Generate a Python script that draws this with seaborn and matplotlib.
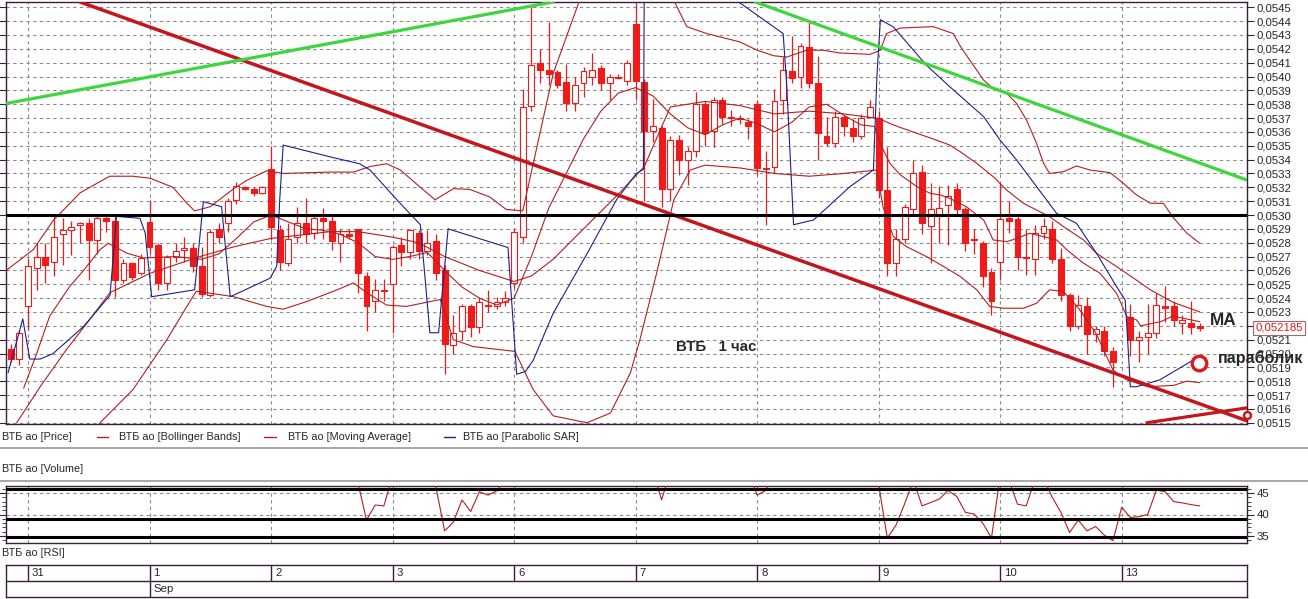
import numpy as np
import pandas as pd
import matplotlib
matplotlib.use("Agg")
import matplotlib.pyplot as plt
import matplotlib.transforms as mtransforms
from matplotlib.lines import Line2D
import seaborn as sns

# hourly bars, VTB ao, 28 Aug .. 13 Sep (bar 128 has no data)
opens = [0.05203, 0.05196, 0.05234, 0.05262, 0.05270, 0.05266, 0.05286, 0.05289, 0.05293, 0.05294,
         0.05282, 0.05298, 0.05296, 0.05253, 0.05265, 0.05258, 0.05295, 0.05278, 0.05251, 0.05270,
         0.05275, 0.05276, 0.05263, 0.05242, 0.05290, 0.05294, 0.05311, 0.05320, 0.05319, 0.05316,
         0.05333, 0.05289, 0.05265, 0.05284, 0.05294, 0.05287, 0.05298, 0.05296, 0.05280, 0.05286,
         0.05290, 0.05256, 0.05238, 0.05246, 0.05250, 0.05278, 0.05273, 0.05287, 0.05274, 0.05281,
         0.05260, 0.05206, 0.05216, 0.05234, 0.05219, 0.05235, 0.05234, 0.05237, 0.05251, 0.05284,
         0.05379, 0.05410, 0.05405, 0.05403, 0.05396, 0.05381, 0.05395, 0.05400, 0.05406, 0.05395,
         0.05400, 0.05397, 0.05438, 0.05396, 0.05361, 0.05363, 0.05319, 0.05354, 0.05340, 0.05346,
         0.05380, 0.05361, 0.05383, 0.05371, 0.05370, 0.05367, 0.05380, 0.05334, 0.05335, 0.05383,
         0.05404, 0.05400, 0.05421, 0.05395, 0.05357, 0.05352, 0.05371, 0.05363, 0.05357, 0.05371,
         0.05370, 0.05318, 0.05265, 0.05283, 0.05304, 0.05331, 0.05292, 0.05299, 0.05307, 0.05319,
         0.05304, 0.05283, 0.05280, 0.05259, 0.05266, 0.05298, 0.05297, 0.05270, 0.05268, 0.05287,
         0.05290, 0.05268, 0.05242, 0.05220, 0.05234, 0.05214, 0.05216, 0.05202, np.nan, 0.05226,
         0.05210, 0.05212, 0.05215, 0.05234, 0.05234, 0.05222, 0.05222, 0.05220]
highs = [0.05207, 0.05217, 0.05269, 0.05280, 0.05280, 0.05299, 0.05298, 0.05296, 0.05295, 0.05298,
         0.05301, 0.05300, 0.05299, 0.05268, 0.05266, 0.05272, 0.05311, 0.05280, 0.05271, 0.05280,
         0.05284, 0.05280, 0.05277, 0.05290, 0.05294, 0.05312, 0.05324, 0.05321, 0.05320, 0.05321,
         0.05350, 0.05293, 0.05294, 0.05306, 0.05312, 0.05300, 0.05305, 0.05301, 0.05290, 0.05290,
         0.05290, 0.05259, 0.05254, 0.05254, 0.05278, 0.05284, 0.05290, 0.05289, 0.05289, 0.05286,
         0.05264, 0.05228, 0.05236, 0.05236, 0.05241, 0.05246, 0.05241, 0.05245, 0.05290, 0.05391,
         0.05451, 0.05420, 0.05439, 0.05405, 0.05409, 0.05400, 0.05407, 0.05417, 0.05408, 0.05402,
         0.05402, 0.05412, 0.05453, 0.05398, 0.05384, 0.05364, 0.05357, 0.05358, 0.05349, 0.05389,
         0.05382, 0.05385, 0.05385, 0.05376, 0.05372, 0.05369, 0.05383, 0.05346, 0.05391, 0.05414,
         0.05429, 0.05424, 0.05439, 0.05415, 0.05371, 0.05375, 0.05372, 0.05369, 0.05373, 0.05383,
         0.05375, 0.05349, 0.05290, 0.05308, 0.05340, 0.05336, 0.05323, 0.05321, 0.05322, 0.05323,
         0.05306, 0.05290, 0.05281, 0.05262, 0.05323, 0.05310, 0.05300, 0.05290, 0.05293, 0.05298,
         0.05296, 0.05276, 0.05244, 0.05242, 0.05241, 0.05220, 0.05220, 0.05205, np.nan, 0.05236,
         0.05216, 0.05236, 0.05244, 0.05249, 0.05238, 0.05228, 0.05238, 0.05222]
lows = [0.05194, 0.05192, 0.05217, 0.05246, 0.05251, 0.05256, 0.05264, 0.05271, 0.05280, 0.05253,
        0.05272, 0.05288, 0.05241, 0.05251, 0.05253, 0.05257, 0.05272, 0.05246, 0.05246, 0.05266,
        0.05266, 0.05259, 0.05241, 0.05241, 0.05280, 0.05288, 0.05308, 0.05318, 0.05314, 0.05315,
        0.05282, 0.05260, 0.05263, 0.05280, 0.05280, 0.05283, 0.05283, 0.05275, 0.05266, 0.05283,
        0.05244, 0.05216, 0.05230, 0.05238, 0.05215, 0.05263, 0.05268, 0.05268, 0.05271, 0.05253,
        0.05185, 0.05200, 0.05210, 0.05212, 0.05215, 0.05230, 0.05232, 0.05234, 0.05247, 0.05280,
        0.05375, 0.05395, 0.05394, 0.05392, 0.05375, 0.05375, 0.05385, 0.05394, 0.05390, 0.05383,
        0.05398, 0.05394, 0.05383, 0.05310, 0.05353, 0.05306, 0.05310, 0.05329, 0.05322, 0.05342,
        0.05350, 0.05349, 0.05366, 0.05364, 0.05366, 0.05355, 0.05329, 0.05293, 0.05330, 0.05373,
        0.05395, 0.05392, 0.05392, 0.05340, 0.05350, 0.05349, 0.05357, 0.05353, 0.05355, 0.05370,
        0.05312, 0.05256, 0.05256, 0.05280, 0.05300, 0.05286, 0.05265, 0.05280, 0.05278, 0.05299,
        0.05274, 0.05272, 0.05248, 0.05228, 0.05253, 0.05287, 0.05260, 0.05257, 0.05257, 0.05283,
        0.05265, 0.05238, 0.05216, 0.05218, 0.05200, 0.05208, 0.05198, 0.05176, np.nan, 0.05198,
        0.05194, 0.05200, 0.05211, 0.05223, 0.05220, 0.05214, 0.05214, 0.05216]
closes = [0.05196, 0.05215, 0.05263, 0.05270, 0.05264, 0.05284, 0.05289, 0.05291, 0.05294, 0.05282,
          0.05298, 0.05296, 0.05253, 0.05265, 0.05255, 0.05269, 0.05277, 0.05251, 0.05270, 0.05274,
          0.05276, 0.05263, 0.05243, 0.05288, 0.05284, 0.05310, 0.05321, 0.05319, 0.05316, 0.05320,
          0.05291, 0.05266, 0.05283, 0.05294, 0.05286, 0.05298, 0.05296, 0.05281, 0.05286, 0.05285,
          0.05258, 0.05234, 0.05246, 0.05245, 0.05277, 0.05273, 0.05289, 0.05274, 0.05280, 0.05258,
          0.05207, 0.05215, 0.05234, 0.05219, 0.05237, 0.05234, 0.05237, 0.05240, 0.05288, 0.05378,
          0.05408, 0.05405, 0.05402, 0.05394, 0.05381, 0.05394, 0.05404, 0.05405, 0.05395, 0.05400,
          0.05399, 0.05410, 0.05397, 0.05361, 0.05364, 0.05319, 0.05354, 0.05340, 0.05346, 0.05380,
          0.05359, 0.05383, 0.05371, 0.05370, 0.05369, 0.05364, 0.05334, 0.05333, 0.05382, 0.05405,
          0.05399, 0.05422, 0.05395, 0.05359, 0.05352, 0.05371, 0.05364, 0.05357, 0.05370, 0.05378,
          0.05318, 0.05265, 0.05283, 0.05306, 0.05330, 0.05294, 0.05304, 0.05305, 0.05314, 0.05304,
          0.05280, 0.05282, 0.05256, 0.05238, 0.05297, 0.05296, 0.05270, 0.05269, 0.05287, 0.05292,
          0.05268, 0.05242, 0.05220, 0.05235, 0.05214, 0.05218, 0.05202, 0.05194, np.nan, 0.05210,
          0.05212, 0.05215, 0.05235, 0.05233, 0.05224, 0.05224, 0.05219, 0.052185]

# indicator lines, read at bar positions
bb_up_x = [-0.5, 2.6, 4.9, 8, 11.4, 14.1, 16.1, 18.7, 20.3, 21.2, 23, 25.7, 27.2, 29.5, 31.4, 36.8,
           39.5, 41.4, 43.3, 44.9, 47.2, 48.9, 51, 52.9, 55.2, 57.1, 59, 62.5, 65.6, 68, 72, 75, 76.4,
           77.9, 80.2, 84, 86, 87.9, 89.4, 91.7, 93.6, 95.5, 99, 100.2, 100.9, 102.5, 106.3, 108.6,
           109.4, 110.5, 112.1, 113.2, 114.75, 115.9, 117.05, 118.2, 119.0, 119.7, 121.3, 122.8,
           124.35, 126.65, 128.2, 129.7, 131.3, 132.8, 134, 135.5, 137]
bb_up_y = [0.05260, 0.05275, 0.05296, 0.05316, 0.05328, 0.05328, 0.053265, 0.05320, 0.053085, 0.05303,
           0.05306, 0.05319, 0.05325, 0.05332, 0.05330, 0.05331, 0.05331, 0.05335, 0.05337, 0.053325,
           0.05320, 0.05311, 0.05319, 0.053185, 0.05313, 0.05304, 0.05303, 0.05402, 0.05456, 0.05475,
           0.05480, 0.05465, 0.05455, 0.05436, 0.05431, 0.05425, 0.05419, 0.05415, 0.05414, 0.05419,
           0.05419, 0.05417, 0.05416, 0.05419, 0.05431, 0.05435, 0.05436, 0.05431, 0.05422, 0.054118,
           0.053974, 0.053914, 0.053878, 0.053805, 0.053685, 0.053517, 0.053373, 0.05330, 0.053313,
           0.053354, 0.053325, 0.053306, 0.053229, 0.053145, 0.053085, 0.053084, 0.052977, 0.05287,
           0.052796]
bb_mid_x = [0.7, 3.4, 6.45, 8.8, 11.45, 16.1, 21.8, 25.7, 29.9, 36.8, 40, 44, 47, 50, 54, 58, 60, 62.5,
            66, 70, 73, 76, 80, 84, 88, 92, 96, 100, 101.7, 104.4, 106.7, 108.2, 109.4, 111.3, 113.2,
            114.75, 116.7, 119.7, 121.3, 123.6, 125.1, 127.4, 129.7, 131.3, 133.9, 137]
bb_mid_y = [0.05150, 0.05176, 0.05203, 0.05222, 0.05244, 0.05258, 0.05270, 0.05277, 0.05283, 0.05288,
            0.05288, 0.05284, 0.05280, 0.05270, 0.05260, 0.05252, 0.05256, 0.05268, 0.05290, 0.05315,
            0.05335, 0.05378, 0.05382, 0.05379, 0.05373, 0.05375, 0.05373, 0.053697, 0.05365, 0.05359,
            0.05354, 0.053505, 0.053457, 0.053373, 0.053277, 0.05318, 0.053084, 0.052988, 0.052916,
            0.05282, 0.052724, 0.052628, 0.05253, 0.05246, 0.05237, 0.05230]
bb_low_x = [8, 10.3, 14.1, 18, 20.3, 21.4, 25.7, 29.5, 31.4, 34.1, 36.8, 38, 39.5, 41, 43.3, 45.6,
            49.5, 51, 53.3, 58.1, 60.2, 62.5, 66.4, 69.1, 71.4, 72.5, 74.5, 76.4, 78.3, 80, 84, 88, 92,
            96, 99.8, 100.5, 101.7, 103.2, 105.5, 107.5, 109.4, 111.3, 112.8, 114.4, 116.7, 118.2,
            119.7, 121.3, 123, 125, 127, 128.6, 131, 134, 135.5, 137]
bb_low_y = [0.05130, 0.05150, 0.05174, 0.05210, 0.05234, 0.05245, 0.05241, 0.05234, 0.05232, 0.052375,
            0.05244, 0.05247, 0.05251, 0.05244, 0.05235, 0.05234, 0.05239, 0.05210, 0.05205, 0.052015,
            0.05174, 0.05155, 0.05150, 0.05157, 0.05186, 0.05210, 0.05260, 0.05311, 0.053325, 0.05336,
            0.05334, 0.05330, 0.05328, 0.05330, 0.053325, 0.05306, 0.052844, 0.052772, 0.05270,
            0.052628, 0.052556, 0.05246, 0.05234, 0.052327, 0.052327, 0.052363, 0.05246, 0.052447,
            0.05233, 0.05215, 0.05188, 0.05181, 0.05176, 0.05177, 0.05180, 0.05179]
ma_x = [1.5, 3, 4.5, 6.8, 8.4, 10.3, 11.25, 13.4, 15.3, 19, 22, 24, 26, 28, 30, 32, 34, 36, 38, 40,
        42, 44, 46, 48, 50, 52, 54, 56, 58, 60, 62, 64, 66, 68, 70, 72, 74, 76, 78, 80, 82, 84, 86, 88,
        90, 92, 94, 96, 98, 99.5, 100.35, 101.3, 102.5, 104.4, 105.9, 107.1, 108.2, 110.1, 112.1,
        113.2, 114.75, 115.9, 117.4, 119, 120.5, 121.7, 123.6, 125.5, 127.4, 128.6, 129.7, 130.2,
        132.5, 133.9, 136.2, 137]
ma_y = [0.05175, 0.05200, 0.05227, 0.052484, 0.05260, 0.05275, 0.052796, 0.052724, 0.05269,
        0.05270, 0.05268, 0.05272, 0.05283, 0.05295, 0.05300, 0.05295, 0.05290, 0.05289, 0.05286,
        0.05280, 0.05270, 0.05268, 0.05270, 0.05273, 0.05260, 0.05248, 0.05240, 0.05235, 0.05240,
        0.05270, 0.05305, 0.05330, 0.05355, 0.05375, 0.05388, 0.05392, 0.05386, 0.05373, 0.05363,
        0.05358, 0.05365, 0.05370, 0.05366, 0.05360, 0.05367, 0.05378, 0.05380, 0.05372, 0.05365,
        0.05364, 0.053493, 0.053373, 0.05329, 0.053205, 0.053157, 0.053145, 0.05312, 0.05306,
        0.052964, 0.05282, 0.052808, 0.05283, 0.052868, 0.052844, 0.05282, 0.052748, 0.052652,
        0.05258, 0.052436, 0.052267, 0.052243, 0.05220, 0.05223, 0.05227, 0.05224, 0.05223]
sar_x = [-0.3, 1.4, 2.2, 3.4, 4.9, 8.4, 11.45, 12.2, 14.9, 15.5, 16.25, 21.2, 22.2, 24.3, 25.3, 29.9,
         30.65, 31.0, 31.4, 36.8, 40.2, 41.4, 44.5, 47.2, 48.3, 49.3, 50.4, 57.3, 58.3, 59.3, 60.2, 62.5,
         66.4, 69.8, 72.1, 72.9, 73.0, 78, 83.6, 89, 89.4, 90.2, 92.5, 96.7, 99.4, 99.8, 100.2, 101.7,
         105.5, 108.2, 112.1, 114, 115.9, 118.2, 120.5, 122.8, 125.1, 127.4, 128.4, 128.6, 129, 129.7,
         132.4, 136.3]
sar_y = [0.05186, 0.05225, 0.05196, 0.05196, 0.05200, 0.052195, 0.05242, 0.05299, 0.052976, 0.05287,
         0.05241, 0.05246, 0.053096, 0.05306, 0.05241, 0.052544, 0.05263, 0.05311, 0.053505, 0.05342,
         0.05337, 0.053325, 0.05311, 0.05293, 0.05215, 0.05215, 0.05290, 0.052765, 0.05185, 0.05187,
         0.05195, 0.05229, 0.05272, 0.05311, 0.05330, 0.05333, 0.05470, 0.05465, 0.05455, 0.05431,
         0.05395, 0.05293, 0.052964, 0.053205, 0.053325, 0.05400, 0.05441, 0.054358, 0.054082,
         0.053926, 0.05371, 0.05354, 0.053397, 0.053205, 0.053012, 0.05294, 0.052724, 0.052484,
         0.052387, 0.052195, 0.05176, 0.05176, 0.05181, 0.051955]

# hand-drawn lines (bar, price at each end)
red_trend_x, red_trend_y = [8.0, 142.4], [0.054538, 0.051515]
red_short_x, red_short_y = [130.9, 142.4], [0.05150, 0.051607]
green1_x, green1_y = [-0.45, 62.5], [0.053806, 0.054538]
green2_x, green2_y = [85.8, 142.4], [0.054538, 0.053253]
level_price = 0.0530
last_price = 0.052185

rsi = [58, 62, 66, 68, 67, 69, 70, 71, 70, 66,
       67, 66, 58, 59, 57, 58, 56, 52, 54, 55,
       55, 53, 50, 57, 56, 60, 63, 62, 61, 62,
       54, 50, 53, 55, 53, 55, 54, 51, 52, 51,
       47.5, 38.7, 42.2, 42.0, 49, 48, 52, 49, 52, 46.3,
       36.2, 38.2, 43.4, 40.7, 45.3, 44.5, 45.5, 48, 56, 68,
       72, 71, 70, 68, 65, 66, 67, 67, 64, 65,
       64, 66, 62, 54, 50, 43.4, 50, 49, 50, 55,
       52, 55, 53, 52, 51, 50, 44.5, 45.6, 50, 55,
       54, 57, 53, 48, 48, 51, 50, 49, 51, 52,
       47, 34.5, 37.5, 42.5, 48, 42.0, 42.8, 43.6, 45.6, 44.2,
       40.5, 40.1, 38.0, 34.5, 49, 48, 42.4, 42.0, 48, 48.5,
       44, 40.5, 35.8, 38.7, 36.2, 37.2, 35.2, 33.9, 41.7, 39.3,
       39.5, 40.0, 45.7, 45.3, 43.0, 42.7, 42.3, 42.0]
rsi_levels = [45.9, 38.9, 34.8]

day_labels = ["31", "1", "2", "3", "6", "7", "8", "9", "10", "13"]
day_start = [2, 16, 30, 44, 58, 72, 86, 100, 114, 128]
month_label, month_start = "Sep", 16

RED = "#ef1a1a"
BAND = "#b3201f"
NAVY = "#1f1f8a"
FRAME = "#3c1e3c"
GRID = "#8c8c8c"

sns.set_style("white")
plt.rcParams["font.family"] = ["Liberation Sans", "DejaVu Sans"]

W, H = 1308, 599
fig = plt.figure(figsize=(W / 100, H / 100), dpi=100)


def box(x0, y0, x1, y1):
    return [x0 / W, 1 - y1 / H, (x1 - x0) / W, (y1 - y0) / H]


x_lo, x_hi = -0.535, 142.44
ax = fig.add_axes(box(6, 2, 1247, 424))
ax_rsi = fig.add_axes(box(6, 486, 1247, 543))
ax_dt = fig.add_axes(box(6, 565, 1247, 597))

# ---- price panel ----
df = pd.DataFrame({"open": opens, "high": highs, "low": lows, "close": closes})
df["bar"] = np.arange(len(df))
df = df.dropna()
ax.vlines(df["bar"], df["low"], df["high"], color=RED, lw=0.9, zorder=3)
for part, face in ((df[df.close < df.open], RED), (df[df.close >= df.open], "white")):
    bottom = np.minimum(part["open"], part["close"])
    height = np.maximum((part["close"] - part["open"]).abs(), 0.000008)
    ax.bar(part["bar"], height, bottom=bottom, width=0.68, color=face,
           edgecolor=RED, linewidth=0.8, zorder=4)

for xs, ys, col in ((bb_up_x, bb_up_y, BAND), (bb_mid_x, bb_mid_y, BAND),
                    (bb_low_x, bb_low_y, BAND), (ma_x, ma_y, BAND), (sar_x, sar_y, NAVY)):
    sns.lineplot(x=xs, y=ys, ax=ax, color=col, linewidth=0.8, sort=False,
                 estimator=None, legend=False, zorder=5)

ax.plot(red_trend_x, red_trend_y, color="#c4161c", lw=2.5, zorder=6)
ax.plot(red_short_x, red_short_y, color="#c4161c", lw=2.3, zorder=6)
ax.plot(green1_x, green1_y, color="#3ed63e", lw=2.3, zorder=6)
ax.plot(green2_x, green2_y, color="#3ed63e", lw=2.3, zorder=6)
ax.axhline(level_price, color="black", lw=2.2, zorder=6)
ax.plot([142.4], [0.051558], "o", ms=5, mfc="white", mec="#d01818", mew=1.8, clip_on=False, zorder=7)
ax.plot([136.95], [0.051931], "o", ms=10.5, mfc="white", mec="#e01818", mew=2.4, zorder=7)

ax.text(76.7, 0.05205, "ВТБ   1 час", fontsize=10.8, fontweight="bold", va="center", ha="left")
ax.text(138.2, 0.052238, "MA", fontsize=12.3, fontweight="bold", va="center", ha="left")
ax.text(139.1, 0.051962, "параболик", fontsize=11.6, fontweight="bold", va="center", ha="left",
        clip_on=False, zorder=8)
tag = mtransforms.blended_transform_factory(ax.transAxes, ax.transData)
ax.text(1.0065, last_price, "0,052185", transform=tag, color="#e01818", fontsize=8.2,
        va="center", ha="left", zorder=9,
        bbox=dict(boxstyle="square,pad=0.2", fc="white", ec="#a06a6a", lw=0.8))

ax.set_xlim(x_lo, x_hi)
ax.set_ylim(0.051491, 0.054538)
price_ticks = np.round(np.arange(0.0515, 0.05455, 0.0001), 4)
ax.set_yticks(price_ticks)
# the 0,0522 label sits under the last-price tag
ax.set_yticklabels(["" if abs(t - 0.0522) < 1e-9 else f"{t:.4f}".replace(".", ",")
                    for t in price_ticks])
ax.set_xticks(day_start)
ax.set_xticklabels([])
ax.tick_params(axis="x", length=0)
ax.tick_params(axis="y", left=True, right=True, labelleft=False, labelright=True,
               direction="out", length=5, width=0.8, color=FRAME, labelsize=8.2, pad=2)
ax.grid(True, ls=(0, (3, 3)), color=GRID, lw=0.8)
ax.set_axisbelow(True)
ax.set_xlabel("")
ax.set_ylabel("")

# ---- RSI panel ----
sns.lineplot(x=np.arange(len(rsi)), y=rsi, ax=ax_rsi, color=BAND, linewidth=0.8,
             estimator=None, legend=False, zorder=4)
for lv in rsi_levels:
    ax_rsi.axhline(lv, color="black", lw=2.2, zorder=5)
ax_rsi.set_xlim(x_lo, x_hi)
ax_rsi.set_ylim(33.37, 46.63)
ax_rsi.set_yticks([35, 40, 45])
ax_rsi.set_yticks(range(34, 47), minor=True)
ax_rsi.set_xticks(day_start)
ax_rsi.set_xticklabels([])
ax_rsi.tick_params(axis="x", length=0)
ax_rsi.tick_params(axis="y", which="both", left=True, right=True, labelleft=False,
                   labelright=True, direction="out", color=FRAME, labelsize=8.2, pad=2)
ax_rsi.tick_params(axis="y", which="major", length=5)
ax_rsi.tick_params(axis="y", which="minor", length=3)
ax_rsi.grid(True, which="major", ls=(0, (3, 3)), color=GRID, lw=0.8)
ax_rsi.set_axisbelow(True)
ax_rsi.set_xlabel("")
ax_rsi.set_ylabel("")

# ---- date strip ----
ax_dt.set_xlim(x_lo, x_hi)
ax_dt.set_ylim(0, 2)
ax_dt.set_xticks([])
ax_dt.set_yticks([])
ax_dt.axhline(1, color=FRAME, lw=1)
ax_dt.vlines(day_start, 1, 2, color=FRAME, lw=1)
ax_dt.vlines([month_start], 0, 1, color=FRAME, lw=1)
for d, lab in zip(day_start, day_labels):
    ax_dt.text(d + 0.45, 1.5, lab, fontsize=8.2, va="center", ha="left")
ax_dt.text(month_start + 0.45, 0.5, month_label, fontsize=8.2, va="center", ha="left")

for a in (ax, ax_rsi, ax_dt):
    for s in a.spines.values():
        s.set_color(FRAME)
        s.set_linewidth(1)

# ---- legend row and panel captions ----
ly = 1 - 437 / H
fig.text(2 / W, ly, "ВТБ ао [Price]", fontsize=7.8, va="center", ha="left")
for x0, x1, tx, label, col in ((97, 108, 119, "ВТБ ао [Bollinger Bands]", BAND),
                               (264, 276, 288, "ВТБ ао [Moving Average]", BAND),
                               (444, 455, 463, "ВТБ ао [Parabolic SAR]", NAVY)):
    fig.add_artist(Line2D([x0 / W, x1 / W], [ly, ly], color=col, lw=1))
    fig.text(tx / W, ly, label, fontsize=7.8, va="center", ha="left")
fig.add_artist(Line2D([0, 1], [1 - 448 / H] * 2, color="#a8a8a8", lw=1.4))
fig.add_artist(Line2D([0, 1], [1 - 481 / H] * 2, color="#a8a8a8", lw=1.4))
fig.text(2 / W, 1 - 469 / H, "ВТБ ао [Volume]", fontsize=7.8, va="center", ha="left")
fig.text(2 / W, 1 - 553 / H, "ВТБ ао [RSI]", fontsize=7.8, va="center", ha="left")

fig.savefig("out.png", dpi=100, facecolor="white")
